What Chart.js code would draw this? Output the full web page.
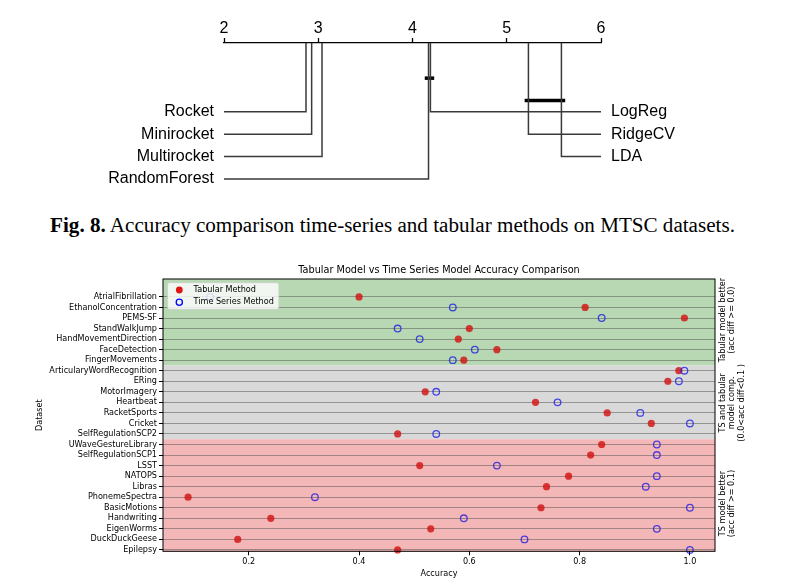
<!DOCTYPE html>
<html><head><meta charset="utf-8">
<script src="https://cdn.jsdelivr.net/npm/chart.js@4.4.0/dist/chart.umd.min.js"></script>
<style>
html,body{margin:0;padding:0;background:#fff;width:800px;height:584px;overflow:hidden;}
#cd{position:absolute;left:0;top:0;}
#dot{position:absolute;left:0;top:250px;}
#cap{position:absolute;left:0;top:213px;width:785px;text-align:center;font-family:"Liberation Serif","Times New Roman",serif;font-size:21.1px;line-height:25px;color:#000;white-space:nowrap;}
</style></head><body>
<canvas id="cd" width="800" height="200"></canvas>
<div id="cap"><b>Fig. 8.</b> Accuracy comparison time-series and tabular methods on MTSC datasets.</div>
<canvas id="dot" width="800" height="334"></canvas>
<script>
// ---------- Critical difference diagram data ----------
const cdMethods = ['Rocket','Minirocket','Multirocket','RandomForest','LogReg','RidgeCV','LDA'];
const cdRanks   = [2.87, 2.93, 3.04, 4.17, 4.19, 5.23, 5.58];
const cdTicks   = [2, 3, 4, 5, 6];
const cdCliques = [['RandomForest','LogReg'], ['RidgeCV','LDA']];

// ---------- Dot chart data ----------
const datasetNames = ['AtrialFibrillation','EthanolConcentration','PEMS-SF','StandWalkJump','HandMovementDirection','FaceDetection','FingerMovements',
  'ArticularyWordRecognition','ERing','MotorImagery','Heartbeat','RacketSports','Cricket','SelfRegulationSCP2',
  'UWaveGestureLibrary','SelfRegulationSCP1','LSST','NATOPS','Libras','PhonemeSpectra','BasicMotions','Handwriting','EigenWorms','DuckDuckGeese','Epilepsy'];
const tabularAcc = [0.40,0.81,0.99,0.60,0.58,0.65,0.59, 0.98,0.96,0.52,0.72,0.85,0.93,0.47, 0.84,0.82,0.51,0.78,0.74,0.09,0.73,0.24,0.53,0.18,0.47];
const tsAcc      = [0.13,0.57,0.84,0.47,0.51,0.61,0.57, 0.99,0.98,0.54,0.76,0.91,1.00,0.54, 0.94,0.94,0.65,0.94,0.92,0.32,1.00,0.59,0.94,0.70,1.00];
const xTicks = [0.2, 0.4, 0.6, 0.8, 1.0];
const regionCounts = [7, 7, 11];
const regionColors = ['rgb(183,216,178)', 'rgb(217,217,217)', 'rgb(244,183,183)'];
const regionLabels = [['Tabular model better','(acc diff >= 0.0)'], ['TS and tabular','model comp.','(0.0<acc diff<0.1 )'], ['TS model better','(acc diff >= 0.1)']];
const regionLabelRows = [2.2, 10.05, 19.6];

// ================= CD diagram =================
const CD_YMIN = -3.07, CD_YMAX = 3.94;
const half = 4;
const cdRow = i => (i < half ? i : i - half);
const cdDatasets = cdMethods.map((m, i) => ({
  data: [{x: cdRanks[i], y: CD_YMIN}, {x: cdRanks[i], y: cdRow(i)}, {x: i < half ? cdTicks[0] : cdTicks[cdTicks.length-1], y: cdRow(i)}],
  showLine: true, borderColor: '#3a3a3a', borderWidth: 1.5, pointRadius: 0, clip: false
}));
const cliqueRows = [-1.5, -0.5];
cdCliques.forEach((c, k) => {
  const rs = c.map(n => cdRanks[cdMethods.indexOf(n)]);
  cdDatasets.push({
    data: [{x: Math.min(...rs) - 0.04, y: cliqueRows[k]}, {x: Math.max(...rs) + 0.04, y: cliqueRows[k]}],
    showLine: true, borderColor: '#000', borderWidth: 3.5, pointRadius: 0, clip: false
  });
});
const cdLabelPlugin = {
  id: 'cdLabels',
  afterDraw(chart) {
    const {ctx, chartArea, scales} = chart;
    ctx.save();
    ctx.font = '16px "Liberation Sans", Arial, sans-serif';
    ctx.fillStyle = '#000';
    ctx.textBaseline = 'middle';
    cdMethods.forEach((m, i) => {
      const y = scales.y.getPixelForValue(cdRow(i));
      if (i < half) { ctx.textAlign = 'right'; ctx.fillText(m, chartArea.left - 10, y); }
      else { ctx.textAlign = 'left'; ctx.fillText(m, chartArea.right + 10, y); }
    });
    ctx.restore();
  }
};
new Chart(document.getElementById('cd'), {
  type: 'scatter',
  data: {datasets: cdDatasets},
  options: {
    responsive: false, animation: false, events: [],
    layout: {padding: {left: 224, right: 199, top: 0, bottom: 0}},
    plugins: {legend: {display: false}, tooltip: {enabled: false}},
    scales: {
      x: {
        type: 'linear', position: 'top', min: cdTicks[0], max: cdTicks[cdTicks.length-1],
        afterBuildTicks: s => { s.ticks = cdTicks.map(v => ({value: v})); },
        afterFit: s => { s.height = 43; },
        ticks: {font: {size: 16, family: '"Liberation Sans", Arial, sans-serif'}, color: '#000', padding: 0, callback: v => String(v)},
        grid: {display: true, drawOnChartArea: false, drawTicks: true, tickLength: 5, tickColor: '#000', tickWidth: 1.3},
        border: {display: true, color: '#000', width: 1.3}
      },
      y: {type: 'linear', display: false, min: CD_YMIN, max: CD_YMAX, reverse: true}
    }
  },
  plugins: [cdLabelPlugin]
});

// ================= Dot chart =================
const FONT = '"DejaVu Sans", sans-serif';
const FS = 8.1;
const Y_MIN = -1.7, Y_MAX = 24.13;
const bounds = [];
{ let acc = -0.5; bounds.push(Y_MIN); regionCounts.forEach((c, k) => { acc += c; bounds.push(k === regionCounts.length - 1 ? Y_MAX : acc); }); }

const bgPlugin = {
  id: 'bgRegions',
  beforeDraw(chart) {
    const {ctx, chartArea, scales} = chart;
    ctx.save();
    for (let k = 0; k < regionCounts.length; k++) {
      const y0 = scales.y.getPixelForValue(bounds[k]);
      const y1 = scales.y.getPixelForValue(bounds[k+1]);
      ctx.fillStyle = regionColors[k];
      ctx.fillRect(chartArea.left, y0, chartArea.right - chartArea.left, y1 - y0);
    }
    ctx.restore();
  },
  afterDatasetsDraw(chart) {
    const {ctx, chartArea, scales} = chart;
    ctx.save();
    // frame
    ctx.strokeStyle = '#000'; ctx.lineWidth = 1;
    ctx.strokeRect(chartArea.left, chartArea.top, chartArea.right - chartArea.left, chartArea.bottom - chartArea.top);
    // title
    ctx.fillStyle = '#000';
    ctx.font = '9.7px ' + FONT;
    ctx.textAlign = 'center'; ctx.textBaseline = 'middle';
    ctx.fillText('Tabular Model vs Time Series Model Accuracy Comparison', (chartArea.left + chartArea.right) / 2, chartArea.top - 9);
    // region annotations
    ctx.font = FS + 'px ' + FONT;
    regionLabels.forEach((lines, k) => {
      const yc = scales.y.getPixelForValue(regionLabelRows[k]);
      lines.forEach((t, i) => {
        ctx.save();
        ctx.translate(chartArea.right + 7.7 + i * 9.4, yc);
        ctx.rotate(-Math.PI / 2);
        ctx.fillText(t, 0, 0);
        ctx.restore();
      });
    });
    // legend
    const lx = chartArea.left + 4.6, ly = chartArea.top + 3.7;
    const tw = Math.max(ctx.measureText('Tabular Method').width, ctx.measureText('Time Series Method').width);
    const lw = 26 + tw + 5, lh = 26.6;
    ctx.beginPath();
    if (ctx.roundRect) ctx.roundRect(lx, ly, lw, lh, 2); else ctx.rect(lx, ly, lw, lh);
    ctx.fillStyle = 'rgba(255,255,255,0.8)'; ctx.fill();
    ctx.strokeStyle = 'rgba(204,204,204,0.8)'; ctx.lineWidth = 0.8; ctx.stroke();
    ctx.beginPath(); ctx.arc(lx + 11.7, ly + 7.3, 3.4, 0, Math.PI * 2);
    ctx.fillStyle = 'rgba(225,20,20,1)'; ctx.fill();
    ctx.beginPath(); ctx.arc(lx + 11.7, ly + 19.6, 3.1, 0, Math.PI * 2);
    ctx.strokeStyle = 'rgba(0,0,255,1)'; ctx.lineWidth = 1.3; ctx.stroke();
    ctx.fillStyle = '#000'; ctx.textAlign = 'left'; ctx.textBaseline = 'middle';
    ctx.fillText('Tabular Method', lx + 26, ly + 7.3);
    ctx.fillText('Time Series Method', lx + 26, ly + 19.6);
    ctx.restore();
  }
};

new Chart(document.getElementById('dot'), {
  type: 'scatter',
  data: {
    datasets: [
      {label: 'Time Series Method', data: tsAcc.map((v, i) => ({x: v, y: i})),
       pointStyle: 'circle', pointRadius: 3.3, pointBackgroundColor: 'rgba(0,0,0,0)', pointBorderColor: 'rgba(20,20,230,0.75)', pointBorderWidth: 1.3, clip: false},
      {label: 'Tabular Method', data: tabularAcc.map((v, i) => ({x: v, y: i})),
       pointStyle: 'circle', pointRadius: 3.6, pointBackgroundColor: 'rgba(210,20,20,0.82)', pointBorderColor: 'rgba(210,20,20,0.82)', pointBorderWidth: 0, clip: false}
    ]
  },
  options: {
    responsive: false, animation: false, events: [],
    layout: {padding: {left: 0, right: 85, top: 29, bottom: 0}},
    plugins: {legend: {display: false}, tooltip: {enabled: false}, title: {display: false}},
    scales: {
      x: {
        type: 'linear', position: 'bottom', min: 0.0445, max: 1.0455,
        afterBuildTicks: s => { s.ticks = xTicks.map(v => ({value: v})); },
        afterFit: s => { s.height = 32.7; },
        ticks: {font: {size: FS, family: FONT}, color: '#000', padding: 2, callback: v => v.toFixed(1)},
        grid: {display: true, drawOnChartArea: false, drawTicks: true, tickLength: 4, tickColor: '#000'},
        border: {display: false},
        title: {display: true, text: 'Accuracy', font: {size: FS, family: FONT}, color: '#000', padding: {top: 0, bottom: 5}}
      },
      y: {
        type: 'linear', position: 'left', min: Y_MIN, max: Y_MAX, reverse: true,
        afterBuildTicks: s => { s.ticks = datasetNames.map((n, i) => ({value: i})); },
        afterFit: s => { s.width = 163; },
        ticks: {font: {size: FS, family: FONT}, color: '#000', padding: 2, autoSkip: false, callback: v => datasetNames[v]},
        grid: {display: true, drawOnChartArea: true, drawTicks: true, tickLength: 4, tickColor: '#000', color: 'rgba(80,80,80,0.5)', lineWidth: 1},
        border: {display: false},
        title: {display: true, text: 'Dataset', font: {size: FS, family: FONT}, color: '#000', padding: {top: 35, bottom: 0}}
      }
    }
  },
  plugins: [bgPlugin]
});
</script>
</body></html>
